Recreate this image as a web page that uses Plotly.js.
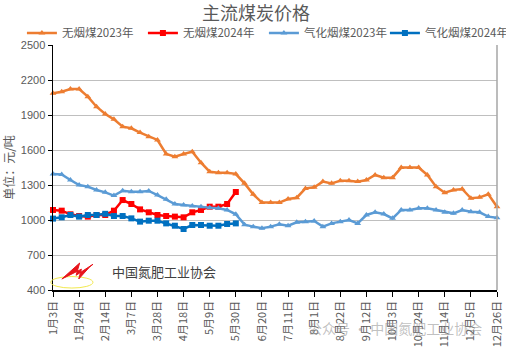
<!DOCTYPE html>
<html>
<head>
<meta charset="utf-8">
<script src="https://cdn.plot.ly/plotly-3.0.1.min.js"></script>
<style>html,body{margin:0;padding:0;background:#fff;}#chart{width:512px;height:350px;}</style>
</head>
<body>
<div id="chart"></div>
<script>
// Weekly tick labels (every 3rd week)
var tickLabels = ["1月3日","1月24日","2月14日","3月7日","3月28日","4月18日","5月9日","5月30日","6月20日","7月11日","8月1日","8月22日","9月12日","10月3日","10月24日","11月14日","12月5日","12月26日"];

var anthracite2023 = [2086,2100,2123,2123,2057,1971,1909,1863,1800,1786,1749,1714,1686,1566,1543,1566,1586,1491,1414,1406,1406,1394,1314,1220,1149,1149,1149,1180,1191,1271,1280,1329,1314,1337,1337,1329,1343,1386,1363,1363,1449,1449,1449,1386,1286,1234,1257,1266,1186,1194,1220,1114];
var anthracite2024 = [1086,1080,1049,1034,1029,1043,1043,1080,1171,1137,1091,1066,1043,1034,1029,1023,1066,1086,1114,1114,1137,1240];
var gasified2023 = [1394,1391,1343,1300,1286,1257,1237,1209,1251,1243,1243,1249,1214,1177,1137,1129,1120,1114,1106,1100,1086,1049,960,943,929,943,963,951,980,986,991,943,971,986,1000,971,1043,1066,1051,1014,1086,1086,1100,1100,1086,1066,1057,1086,1071,1066,1029,1020];
var gasified2024 = [1012,1023,1043,1029,1043,1043,1053,1034,1034,1014,986,994,994,971,951,923,957,957,951,951,966,971];

var seriesNames = ["无烟煤2023年","无烟煤2024年","气化烟煤2023年","气化烟煤2024年"];
var seriesData = [anthracite2023, anthracite2024, gasified2023, gasified2024];
var colors = ["#ED7D31","#FF0000","#5B9BD5","#0070C0"];
var symbols = ["triangle-up","square","triangle-up","square"];

function idx(arr){ return arr.map(function(_, i){ return i; }); }

var traces = seriesData.map(function(d, k){
  return {
    x: idx(d), y: d, name: seriesNames[k], type: "scatter", mode: "lines+markers",
    line: {color: colors[k], width: 2.5},
    marker: {symbol: symbols[k], size: 6, color: colors[k]},
    cliponaxis: false
  };
});

var tickVals = tickLabels.map(function(_, i){ return i * 3; });
var font = "Liberation Sans, Noto Sans CJK SC, sans-serif";
var cjk = "Noto Sans CJK SC, sans-serif";

var layout = {
  width: 512, height: 350,
  margin: {l: 53, r: 15, t: 45, b: 60},
  paper_bgcolor: "#fff", plot_bgcolor: "#fff",
  title: {text: "主流煤炭价格", font: {family: cjk, size: 18, color: "#595959"}, x: 0.5, xanchor: "center", y: 0.962, yanchor: "middle"},
  showlegend: true,
  legend: {orientation: "h", x: -0.07, xanchor: "left", y: 1.049, yanchor: "middle",
           entrywidth: 76, entrywidthmode: "pixels",
           font: {family: cjk, size: 11.5, color: "#595959"}, itemwidth: 30, tracegroupgap: 0, bgcolor: "rgba(0,0,0,0)"},
  xaxis: {
    range: [0, 51], tickvals: tickVals, ticktext: tickLabels, tickangle: -90,
    showgrid: false, zeroline: false, showline: true, linecolor: "#000", linewidth: 1.5,
    ticks: "outside", ticklen: 5, tickcolor: "#000",
    tickfont: {family: cjk, size: 11, color: "#595959"}
  },
  yaxis: {
    range: [400, 2500], dtick: 300, tick0: 400,
    showgrid: true, gridcolor: "#BFBFBF", gridwidth: 1, zeroline: false,
    showline: true, linecolor: "#000", linewidth: 1.5, ticks: "outside", ticklen: 4, tickcolor: "#000",
    tickfont: {family: font, size: 11, color: "#595959"},
    title: {text: "单位：元/吨", font: {family: cjk, size: 12, color: "#595959"}, standoff: 6}
  },
  shapes: [
    {type: "line", xref: "paper", yref: "paper", x0: 1, x1: 1, y0: 0, y1: 1, line: {color: "#A6A6A6", width: 1.5}},
    {type: "circle", xref: "paper", yref: "paper", x0: -0.005, x1: 0.09, y0: 0.008, y1: 0.055, line: {color: "#F2E94E", width: 1}},
    {type: "path", xref: "paper", yref: "paper",
     path: "M 0.02,0.045 L 0.06,0.11 L 0.052,0.06 L 0.09,0.105 L 0.083,0.095 L 0.058,0.045 L 0.064,0.085 Z",
     fillcolor: "#E8141B", line: {color: "#E8141B", width: 1}}
  ],
  annotations: [
    {text: "中国氮肥工业协会", xref: "paper", yref: "paper", x: 0.128, y: 0.074, xanchor: "left", yanchor: "middle",
     showarrow: false, font: {family: cjk, size: 13, color: "#404040"}},
    {text: "公众号 · 中国氮肥工业协会", xref: "paper", yref: "paper", x: 0.57, y: -0.155, xanchor: "left", yanchor: "middle",
     showarrow: false, font: {family: cjk, size: 14, color: "rgba(140,140,140,0.55)"}}
  ]
};

Plotly.newPlot("chart", traces, layout, {displayModeBar: false, staticPlot: true});
</script>
</body>
</html>
